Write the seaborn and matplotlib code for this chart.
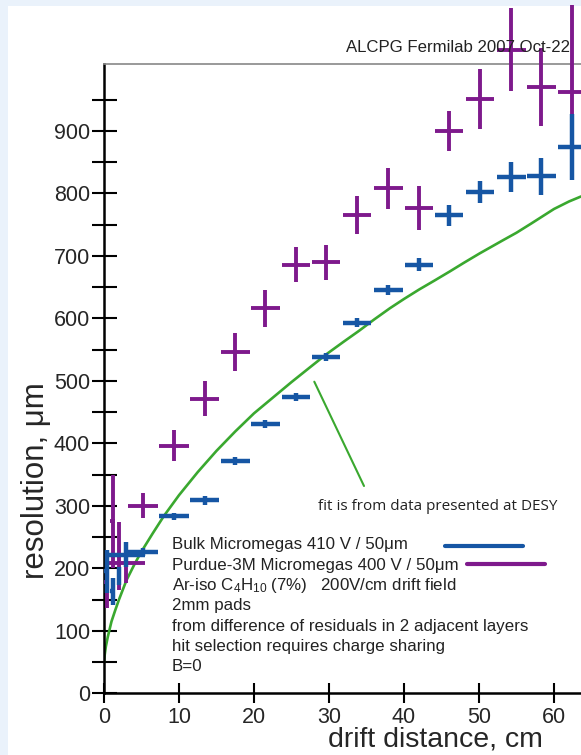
import numpy as np
import pandas as pd
import seaborn as sns
import matplotlib
matplotlib.use("Agg")
import matplotlib.pyplot as plt
from matplotlib.patches import Rectangle
from matplotlib.lines import Line2D

# ---------------- data ----------------
drift_cm = [0.35, 1.15, 2.0, 2.9, 5.2, 9.3, 13.4, 17.5, 21.5, 25.6, 29.6,
            33.7, 37.9, 42.0, 46.0, 50.1, 54.3, 58.3, 62.4]
drift_err = [0.3, 0.3, 0.3, 2.6, 2.0, 2.0, 1.9, 1.9, 1.9, 1.9, 1.9,
             1.9, 1.9, 1.9, 1.9, 1.9, 1.9, 1.9, 1.9]

bulk_res = [195, 163, 188, 222, 226, 283, 309, 372, 431, 474, 538,
            593, 645, 686, 765, 802, 826, 827, 874]
bulk_err = [35, 22, 14, 20, 6, 6, 7, 6, 6, 6, 6,
            7, 8, 10, 17, 18, 24, 30, 53]

purdue_res = [178, 275, 220, 208, 300, 396, 471, 546, 616, 686, 690,
              765, 808, 776, 900, 951, 1030, 970, 962]
purdue_err = [42, 75, 54, 32, 20, 25, 28, 30, 30, 28, 28,
              30, 33, 35, 32, 48, 67, 62, 140]

fit_x = [0, 0.1, 0.25, 0.5, 1, 1.5, 2, 3, 4, 5, 6.5, 8, 10, 12.5, 15, 17.5,
         20, 22.5, 25, 27.5, 29.7, 32, 34, 36, 38.1, 40, 42, 44, 46.1, 48,
         50.1, 53.2, 55, 57, 60, 62, 63.6]
fit_y = [50, 62, 75, 90, 115, 133, 150, 181, 205, 227, 256, 284, 317, 354,
         388, 419, 448, 473, 498, 522, 543, 563, 580, 598, 616, 631, 646,
         660, 675, 689, 704, 725, 737, 752, 775, 787, 795]

x_ticks = [0, 10, 20, 30, 40, 50, 60]
y_ticks = [0, 100, 200, 300, 400, 500, 600, 700, 800, 900]

legend_lines = ["Bulk Micromegas 410 V / 50\u03bcm",
                "Purdue-3M Micromegas 400 V / 50\u03bcm",
                r"Ar-iso C$_4$H$_{10}$ (7%)   200V/cm drift field",
                "2mm pads",
                "from difference of residuals in 2 adjacent layers",
                "hit selection requires charge sharing",
                "B=0"]

BLUE = "#1656a4"
PURPLE = "#7e1a8c"
GREEN = "#3aa82f"

# ---------------- style ----------------
sns.set_theme(style="ticks")
plt.rcParams["font.family"] = ["Liberation Sans", "DejaVu Sans"]
plt.rcParams["mathtext.fontset"] = "custom"
plt.rcParams["mathtext.rm"] = "Liberation Sans"
plt.rcParams["mathtext.it"] = "Liberation Sans"

W, H = 581, 755
fig = plt.figure(figsize=(W / 100, H / 100), dpi=100)
fig.patch.set_facecolor("#eaf2fb")
fig.patches.append(Rectangle((8 / W, 0), 1, (H - 6) / H, transform=fig.transFigure,
                             facecolor="white", edgecolor="none", zorder=-10))

ax_l, ax_r, ax_t, ax_b = 104, 581, 64, 693.3
ax = fig.add_axes([ax_l / W, (H - ax_b) / H, (ax_r - ax_l) / W, (ax_b - ax_t) / H])
ax.set_facecolor("none")

# fit curve
fit_df = pd.DataFrame({"x": fit_x, "y": fit_y})
sns.lineplot(data=fit_df, x="x", y="y", ax=ax, color=GREEN, lw=1.9, zorder=2,
             estimator=None, sort=True)

# data points
for res, err, col, lw in [(purdue_res, purdue_err, PURPLE, 2.8),
                          (bulk_res, bulk_err, BLUE, 3.2)]:
    eb = ax.errorbar(drift_cm, res, yerr=err, xerr=drift_err, fmt="none",
                     ecolor=col, elinewidth=lw, capsize=0, zorder=3)
    for coll in eb[2]:
        coll.set_clip_on(False)

ax.set_xlim(0, 63.6)
ax.set_ylim(0, 1007)
ax.set_xticks(x_ticks)
ax.set_yticks(y_ticks)
ax.set_yticks([50 + 100 * i for i in range(10)], minor=True)
ax.tick_params(axis="y", which="major", direction="inout", length=18, width=1.5,
               labelsize=15.5, pad=1, color="black")
ax.tick_params(axis="y", which="minor", direction="inout", length=18, width=1.5,
               color="black")
ax.tick_params(axis="x", which="major", direction="inout", length=14, width=1.5,
               labelsize=15.5, pad=3, color="black")

for s in ["left", "bottom"]:
    ax.spines[s].set_color("black")
    ax.spines[s].set_linewidth(1.8)
ax.spines["top"].set_visible(True)
ax.spines["top"].set_color("#888888")
ax.spines["top"].set_linewidth(1.2)
ax.spines["right"].set_visible(False)

ax.set_xlabel("drift distance, cm", fontsize=20.5)
ax.set_ylabel("resolution, \u03bcm", fontsize=22.5)
ax.xaxis.set_label_coords((435 - ax_l) / (ax_r - ax_l), (ax_b - 740) / (ax_b - ax_t))
ax.yaxis.set_label_coords((36 - ax_l) / (ax_r - ax_l), (ax_b - 481) / (ax_b - ax_t))
ax.xaxis.label.set_va("center")
ax.yaxis.label.set_va("center")

def afx(px):
    return (px - ax_l) / (ax_r - ax_l)

def afy(py):
    return (ax_b - py) / (ax_b - ax_t)

# legend block
for i, t in enumerate(legend_lines):
    ax.text(afx(171.7), afy(545 + 20.3 * i), t, transform=ax.transAxes,
            fontsize=12.2, va="center", ha="left", color="#222222")
ax.add_line(Line2D([afx(445), afx(523)], [afy(545.7)] * 2, transform=ax.transAxes,
                   color=BLUE, lw=3))
ax.add_line(Line2D([afx(466.7), afx(545)], [afy(564)] * 2, transform=ax.transAxes,
                   color=PURPLE, lw=3))

# annotation for fit
ax.add_line(Line2D([afx(314.3), afx(364)], [afy(381.7), afy(486)],
                   transform=ax.transAxes, color=GREEN, lw=1.5))
ax.text(afx(318), afy(507), "fit is from data presented at DESY", transform=ax.transAxes,
        fontsize=11, va="center", ha="left", family=["Open Sans", "DejaVu Sans"],
        color="#222222")

fig.text(570 / W, 1 - 48 / H, "ALCPG Fermilab 2007 Oct-22", ha="right", va="center",
         fontsize=12.1, color="#222222")

fig.savefig("out.png", dpi=100)
